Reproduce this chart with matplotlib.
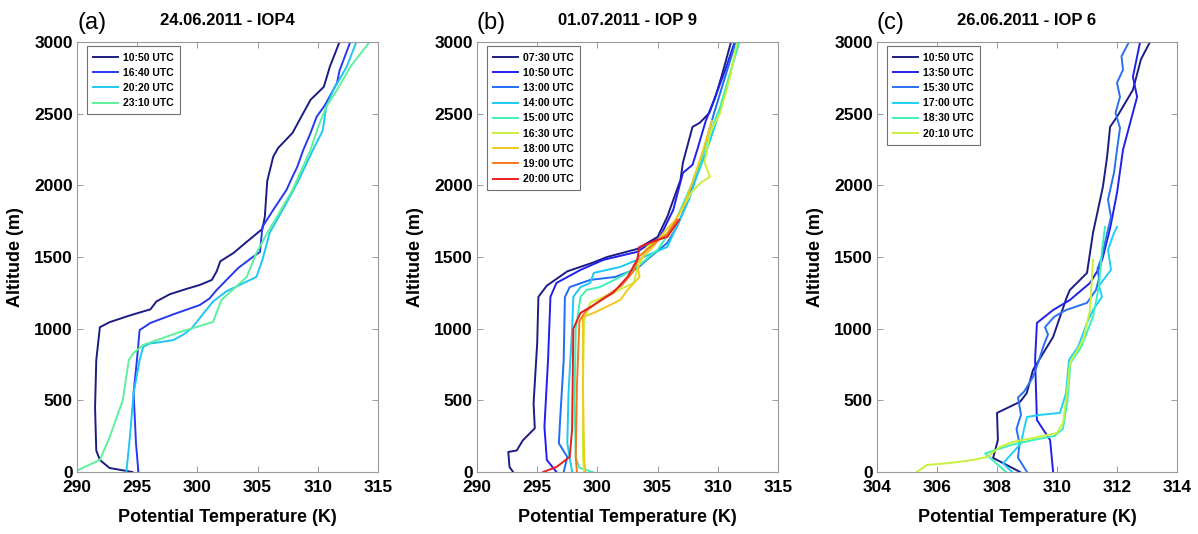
import matplotlib
matplotlib.use("Agg")
from matplotlib import pyplot as plt

plt.rcParams['font.family'] = ['Liberation Sans', 'DejaVu Sans']

#####
#
# (a) 24.06.2011 - IOP4
#
#####

a_labels = ["10:50 UTC", "16:40 UTC", "20:20 UTC", "23:10 UTC"]
a_colors = ["#1c1c84", "#2838f0", "#1fc6f5", "#5ef09a"]

a_1050_temp = [294.6, 292.7, 291.9, 291.6, 291.5, 291.6, 291.9, 292.7, 294.3, 296.1,
               296.6, 297.7, 299.0, 300.2, 301.2, 301.6, 301.9, 303.0, 304.1, 305.4,
               305.6, 305.8, 306.3, 306.7, 307.9, 308.8, 309.4, 310.5, 311.0, 311.8]
a_1050_alt = [0, 28, 84, 150, 450, 780, 1010, 1045, 1090, 1135,
              1190, 1240, 1275, 1305, 1340, 1400, 1470, 1528, 1606, 1696,
              1780, 2030, 2200, 2260, 2366, 2505, 2597, 2687, 2827, 3000]

a_1640_temp = [295.1, 294.9, 294.7, 295.0, 295.2, 296.1, 298.0, 300.2, 301.0, 301.6,
               303.4, 304.6, 305.2, 305.4, 306.3, 307.4, 307.9, 308.3, 308.8, 309.4,
               309.9, 310.6, 311.6, 311.8, 312.7]
a_1640_alt = [0, 200, 550, 800, 990, 1040, 1100, 1165, 1210, 1270,
              1424, 1500, 1535, 1710, 1829, 1968, 2060, 2130, 2248, 2366,
              2478, 2560, 2715, 2800, 3000]

a_2020_temp = [294.1, 294.4, 294.7, 295.2, 295.5, 296.0, 298.0, 298.8, 299.5, 301.3,
               302.4, 304.9, 305.4, 306.0, 307.4, 308.3, 309.6, 310.4, 310.7, 311.3,
               312.4, 313.2]
a_2020_alt = [0, 250, 550, 780, 873, 895, 920, 957, 1000, 1190,
              1260, 1361, 1480, 1668, 1877, 2017, 2248, 2380, 2548, 2666,
              2827, 3000]

a_2310_temp = [290.0, 291.9, 292.7, 293.8, 294.3, 294.7, 295.5, 298.3, 301.3, 301.9,
               302.0, 304.1, 304.9, 305.8, 306.6, 307.9, 309.4, 310.0, 310.7, 311.6,
               312.7, 314.3]
a_2310_alt = [10, 84, 240, 500, 780, 830, 886, 970, 1047, 1180,
              1200, 1361, 1528, 1668, 1780, 1968, 2248, 2400, 2548, 2666,
              2827, 3000]

#####
#
# (b) 01.07.2011 - IOP 9
#
#####

b_labels = ["07:30 UTC", "10:50 UTC", "13:00 UTC", "14:00 UTC", "15:00 UTC",
            "16:30 UTC", "18:00 UTC", "19:00 UTC", "20:00 UTC"]
b_colors = ["#1c1c84", "#1f1ff0", "#1f6cf5", "#1fc8f5", "#3ef0b8",
            "#c8f03c", "#f5c81e", "#f5781e", "#e81e1e"]

b_0730_temp = [293.0, 292.7, 292.6, 293.3, 293.8, 294.8, 294.7, 295.0, 295.1, 295.8,
               297.5, 299.6, 300.8, 303.3, 305.0, 305.8, 306.9, 307.1, 307.9, 308.5,
               309.3, 309.8, 310.3, 311.1]
b_0730_alt = [0, 35, 140, 150, 220, 305, 480, 900, 1222, 1300,
              1400, 1460, 1500, 1556, 1640, 1780, 2038, 2157, 2408, 2436,
              2505, 2617, 2757, 3000]

b_1050_temp = [296.6, 295.8, 295.6, 295.9, 296.1, 296.6, 298.6, 300.5, 303.3, 305.2,
               306.3, 307.1, 307.9, 308.3, 309.0, 309.8, 310.6, 311.4]
b_1050_alt = [0, 84, 315, 780, 1222, 1319, 1410, 1480, 1536, 1640,
              1829, 2087, 2143, 2250, 2450, 2620, 2800, 3000]

b_1300_temp = [297.2, 297.5, 296.8, 296.9, 297.2, 297.3, 297.7, 299.4, 301.5, 303.3,
               304.1, 305.8, 306.6, 307.3, 307.9, 308.7, 309.5, 310.4, 311.5]
b_1300_alt = [0, 105, 200, 360, 780, 1220, 1290, 1340, 1361, 1420,
              1480, 1598, 1710, 1850, 2000, 2200, 2450, 2700, 3000]

b_1400_temp = [297.9, 297.5, 297.6, 297.9, 298.0, 298.6, 299.4, 299.7, 301.9, 303.3,
               305.8, 306.8, 307.6, 308.2, 309.1, 309.9, 310.8, 311.7]
b_1400_alt = [0, 200, 550, 1000, 1222, 1290, 1319, 1389, 1431, 1480,
              1570, 1750, 1900, 2050, 2250, 2450, 2700, 3000]

b_1500_temp = [299.6, 298.5, 298.2, 298.1, 298.2, 298.6, 299.1, 300.2, 301.9, 303.3,
               305.0, 306.2, 307.0, 307.8, 308.5, 309.3, 310.2, 310.9, 311.8]
b_1500_alt = [0, 30, 100, 500, 1000, 1222, 1270, 1290, 1361, 1431,
              1550, 1700, 1850, 2000, 2150, 2350, 2550, 2750, 3000]

b_1630_temp = [298.9, 298.8, 298.8, 298.9, 299.4, 301.3, 303.0, 303.3, 304.1, 305.8,
               306.8, 307.8, 308.6, 309.35, 308.9, 309.35, 310.2, 311.0, 311.6]
b_1630_alt = [0, 100, 600, 1060, 1180, 1250, 1319, 1410, 1570, 1668,
              1800, 1950, 2020, 2060, 2157, 2366, 2505, 2750, 3000]

b_1800_temp = [299.0, 298.9, 298.8, 298.8, 299.7, 301.9, 302.5, 303.5, 303.3, 304.6,
               305.6, 306.5, 307.3, 308.0, 308.8, 309.5]
b_1800_alt = [0, 100, 600, 1082, 1110, 1200, 1270, 1361, 1459, 1570,
              1680, 1760, 1880, 2050, 2250, 2450]

b_1900_temp = [298.3, 298.2, 298.3, 298.5, 299.0, 300.6, 302.0, 303.0, 303.4, 304.8,
               305.8, 306.6]
b_1900_alt = [0, 100, 600, 1050, 1120, 1220, 1300, 1400, 1500, 1600,
              1660, 1760]

b_2000_temp = [295.5, 296.6, 297.7, 297.9, 298.0, 298.6, 299.4, 301.3, 302.5, 303.3,
               303.5, 305.0, 305.8, 306.8]
b_2000_alt = [0, 35, 105, 300, 1000, 1110, 1150, 1250, 1361, 1480,
              1570, 1620, 1640, 1760]

#####
#
# (c) 26.06.2011 - IOP 6
#
#####

c_labels = ["10:50 UTC", "13:50 UTC", "15:30 UTC", "17:00 UTC", "18:30 UTC", "20:10 UTC"]
c_colors = ["#1c1c84", "#2020e8", "#2a70f0", "#1fd0f5", "#3ef0b8", "#c8f03c"]

c_1050_temp = [308.77, 307.87, 308.03, 308.0, 308.77, 308.99, 309.2, 309.87, 310.33, 310.43,
               311.0, 311.2, 311.53, 311.67, 311.77, 312.0, 312.53, 312.8, 313.1]
c_1050_alt = [0, 98, 223, 412, 490, 550, 712, 942, 1222, 1270,
              1389, 1668, 1990, 2198, 2408, 2478, 2666, 2880, 3000]

c_1350_temp = [309.87, 309.77, 309.33, 309.27, 309.33, 309.87, 310.43, 311.1, 311.43, 311.53,
               311.77, 312.0, 312.2, 312.67, 312.53, 312.77]
c_1350_alt = [0, 223, 363, 782, 1040, 1130, 1200, 1319, 1431, 1500,
              1700, 1947, 2248, 2617, 2757, 3000]

c_1530_temp = [309.0, 308.7, 308.75, 308.65, 308.8, 308.7, 308.9, 309.2, 309.4, 309.55,
               309.7, 309.6, 309.9, 310.3, 311.0, 311.3, 311.4, 311.35, 311.5, 311.6,
               311.8, 311.7, 311.9, 312.0, 312.1, 311.95, 312.1, 312.0, 312.2, 312.15,
               312.4]
c_1530_alt = [0, 100, 200, 300, 400, 520, 560, 663, 780, 880,
              960, 1010, 1082, 1130, 1180, 1270, 1350, 1420, 1500, 1600,
              1780, 1900, 2087, 2248, 2400, 2505, 2617, 2715, 2806, 2900,
              3000]

c_1700_temp = [308.5, 308.2, 308.5, 308.8, 308.9, 309.0, 309.5, 310.1, 310.3, 310.4,
               310.7, 311.0, 311.2, 311.5, 311.4, 311.8, 311.7, 311.9, 312.0]
c_1700_alt = [0, 60, 130, 200, 300, 384, 400, 412, 550, 782,
              872, 1040, 1130, 1222, 1300, 1410, 1550, 1668, 1710]

c_1830_temp = [308.3, 307.6, 308.5, 309.2, 309.9, 310.2, 310.35, 310.45, 310.8, 311.2,
               311.4, 311.5, 311.6]
c_1830_alt = [0, 130, 190, 223, 250, 300, 500, 760, 870, 1082,
              1300, 1550, 1710]

c_2010_temp = [305.33, 305.67, 306.43, 307.2, 307.67, 308.1, 308.53, 309.2, 310.0, 310.2,
               310.33, 310.43, 310.87, 311.1, 311.2]
c_2010_alt = [0, 49, 63, 84, 105, 175, 210, 237, 272, 342,
              550, 761, 921, 1130, 1480]


def draw_panel(ax, letter, title, profiles, labels, colors, xlim, xticks):
    for (temp, alt), lab, col in zip(profiles, labels, colors):
        ax.plot(temp, alt, color=col, lw=1.4, label=lab)

    ax.set_xlim(*xlim)
    ax.set_ylim(0, 3000)
    ax.set_xticks(xticks)
    ax.set_yticks(range(0, 3001, 500))
    ax.tick_params(direction='in', top=True, right=True, length=4, width=0.7,
                   color='#9a9a9a', labelsize=12.5)
    ax.tick_params(axis='x', pad=6)
    ax.tick_params(axis='y', pad=3)
    for lab in ax.get_xticklabels() + ax.get_yticklabels():
        lab.set_fontweight('bold')
    for s in ax.spines.values():
        s.set_color('#9a9a9a')

    ax.set_xlabel("Potential Temperature (K)", fontsize=13, fontweight='bold', labelpad=10)
    ax.set_ylabel("Altitude (m)", fontsize=13, fontweight='bold', labelpad=7)
    ax.set_title(title, fontsize=12, fontweight='bold', pad=12)
    ax.text(0.0, 1.045, letter, transform=ax.transAxes, fontsize=17,
            ha='left', va='center')

    leg = ax.legend(loc='upper left', bbox_to_anchor=(0.033, 0.99), borderaxespad=0,
                    prop={'size': 7.5, 'weight': 'bold'}, handlelength=2.4,
                    handletextpad=0.5, labelspacing=0.5, borderpad=0.6,
                    fancybox=False, framealpha=1, edgecolor='#707070')
    leg.get_frame().set_linewidth(0.8)


fig = plt.figure(figsize=(11.98, 5.34), dpi=100)
bottom, height = 62 / 534, 430 / 534

ax_a = fig.add_axes([77 / 1198, bottom, 301 / 1198, height])
ax_b = fig.add_axes([477 / 1198, bottom, 301 / 1198, height])
ax_c = fig.add_axes([877 / 1198, bottom, 300 / 1198, height])

draw_panel(ax_a, "(a)", "24.06.2011 - IOP4",
           [(a_1050_temp, a_1050_alt), (a_1640_temp, a_1640_alt),
            (a_2020_temp, a_2020_alt), (a_2310_temp, a_2310_alt)],
           a_labels, a_colors, (290, 315), range(290, 316, 5))

draw_panel(ax_b, "(b)", "01.07.2011 - IOP 9",
           [(b_0730_temp, b_0730_alt), (b_1050_temp, b_1050_alt),
            (b_1300_temp, b_1300_alt), (b_1400_temp, b_1400_alt),
            (b_1500_temp, b_1500_alt), (b_1630_temp, b_1630_alt),
            (b_1800_temp, b_1800_alt), (b_1900_temp, b_1900_alt),
            (b_2000_temp, b_2000_alt)],
           b_labels, b_colors, (290, 315), range(290, 316, 5))

draw_panel(ax_c, "(c)", "26.06.2011 - IOP 6",
           [(c_1050_temp, c_1050_alt), (c_1350_temp, c_1350_alt),
            (c_1530_temp, c_1530_alt), (c_1700_temp, c_1700_alt),
            (c_1830_temp, c_1830_alt), (c_2010_temp, c_2010_alt)],
           c_labels, c_colors, (304, 314), range(304, 315, 2))

plt.savefig("out.png", dpi=100)
